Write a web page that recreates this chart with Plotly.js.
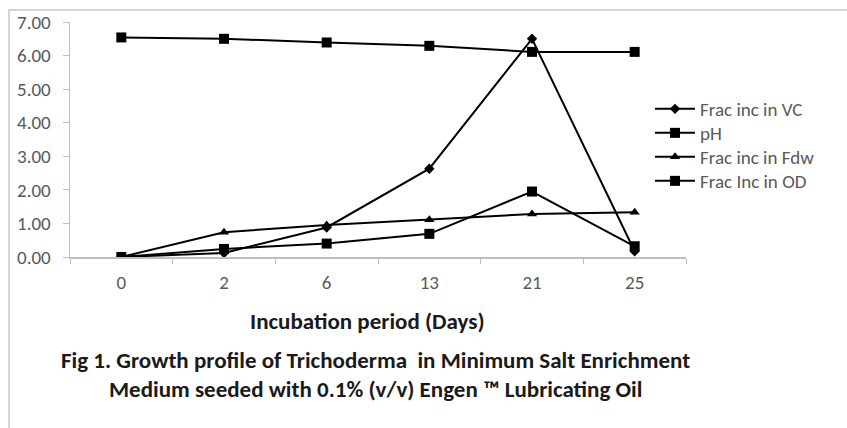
<!DOCTYPE html>
<html>
<head>
<meta charset="utf-8">
<script src="https://cdn.plot.ly/plotly-3.0.1.min.js"></script>
<style>
html,body{margin:0;padding:0;background:#fff;}
#wrap{position:relative;width:847px;height:428px;overflow:hidden;}
#chart{position:absolute;left:0;top:0;width:847px;height:428px;}
#frame{position:absolute;left:8px;top:9px;width:900px;height:500px;border-left:2px solid #d4d4d4;border-top:2px solid #d4d4d4;pointer-events:none;}
</style>
</head>
<body>
<div id="wrap"><div id="chart"></div><div id="frame"></div></div>
<script>
const days = ["0", "2", "6", "13", "21", "25"];
const fracVC = [0.00, 0.12, 0.88, 2.63, 6.50, 0.17];
const pH = [6.54, 6.50, 6.39, 6.29, 6.11, 6.11];
const fracFdw = [0.00, 0.74, 0.95, 1.11, 1.28, 1.33];
const fracOD = [0.00, 0.24, 0.40, 0.69, 1.95, 0.32];
const seriesNames = ["Frac inc in VC", "pH", "Frac inc in Fdw", "Frac Inc in OD"];
const yTicks = [0, 1, 2, 3, 4, 5, 6, 7];

const FONT = "Carlito, 'Liberation Sans Narrow', 'Liberation Sans', sans-serif";
const lineStyle = {color: "#000000", width: 2};
const legendIds = ["legend", "legend2", "legend3", "legend4"];
const legendRowCenters = [109, 133, 157, 181];

function tr(name, y, symbol, size, leg) {
  return {
    x: days, y: y, name: name, type: "scatter", mode: "lines+markers",
    line: lineStyle, legend: leg,
    marker: {symbol: symbol, size: size, color: "#000000"}
  };
}

const data = [
  tr(seriesNames[0], fracVC, "diamond", 8, legendIds[0]),
  tr(seriesNames[1], pH, "square", 10, legendIds[1]),
  tr(seriesNames[2], fracFdw, "triangle-up", 9, legendIds[2]),
  tr(seriesNames[3], fracOD, "square", 10, legendIds[3])
];

function legendAt(centerPx) {
  return {
    x: (650 - 70) / 616, xanchor: "left", y: (257 - (centerPx - 19)) / 235, yanchor: "top",
    itemwidth: 40,
    font: {family: FONT, size: 19, color: "#595959"},
    bgcolor: "rgba(0,0,0,0)"
  };
}

const layout = {
  width: 847, height: 428,
  margin: {l: 70, r: 161, t: 22, b: 171},
  paper_bgcolor: "#ffffff", plot_bgcolor: "#ffffff",
  font: {family: FONT, size: 19, color: "#595959"},
  showlegend: true,
  legend: legendAt(legendRowCenters[0]),
  legend2: legendAt(legendRowCenters[1]),
  legend3: legendAt(legendRowCenters[2]),
  legend4: legendAt(legendRowCenters[3]),
  xaxis: {
    type: "category", categoryorder: "array", categoryarray: days,
    range: [-0.5, 5.5],
    showgrid: false, zeroline: false,
    showline: true, linecolor: "#bfbfbf", linewidth: 1.5,
    ticks: "outside", tickson: "boundaries", ticklen: 5, tickcolor: "#bfbfbf",
    ticklabelstandoff: 8,
    tickfont: {family: FONT, size: 19, color: "#595959"},
    fixedrange: true
  },
  yaxis: {
    range: [0, 7], tickvals: yTicks,
    ticktext: yTicks.map(v => v.toFixed(2)),
    showgrid: false, zeroline: false,
    showline: true, linecolor: "#bfbfbf", linewidth: 1.5,
    ticks: "outside", ticklen: 6, tickcolor: "#bfbfbf",
    ticklabelstandoff: 8,
    tickfont: {family: FONT, size: 19, color: "#595959"},
    fixedrange: true
  },
  annotations: [
    {text: "<b>Incubation period (Days)</b>", xref: "paper", yref: "paper",
     x: (367 - 70) / 616, y: -(321 - 257) / 235, xanchor: "center", yanchor: "middle",
     showarrow: false, font: {family: FONT, size: 23, color: "#1a1a1a"}},
    {text: "<b>Fig 1. Growth profile of Trichoderma  in Minimum Salt Enrichment</b>", xref: "paper", yref: "paper",
     x: (375 - 70) / 616, y: -(360 - 257) / 235, xanchor: "center", yanchor: "middle",
     showarrow: false, font: {family: FONT, size: 23, color: "#1a1a1a"}},
    {text: "<b>Medium seeded with 0.1% (v/v) Engen \u2122 Lubricating Oil</b>", xref: "paper", yref: "paper",
     x: (375 - 70) / 616, y: -(389 - 257) / 235, xanchor: "center", yanchor: "middle",
     showarrow: false, font: {family: FONT, size: 23, color: "#1a1a1a"}}
  ]
};

Plotly.newPlot("chart", data, layout, {staticPlot: true, displayModeBar: false});
</script>
</body>
</html>
